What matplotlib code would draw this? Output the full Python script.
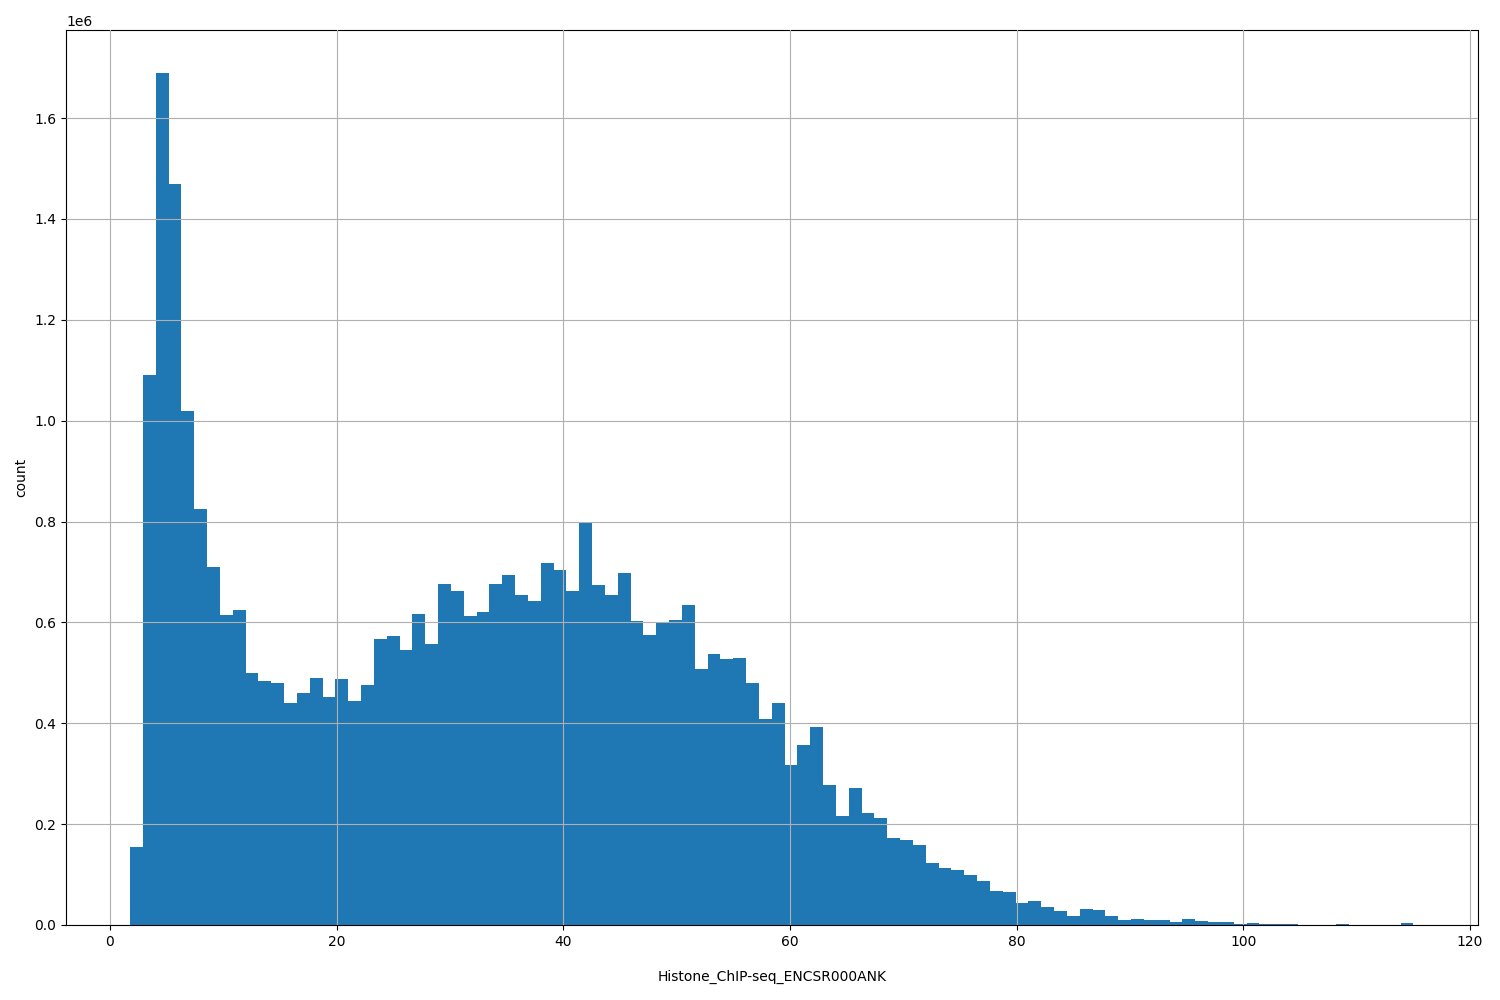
import numpy as np
import matplotlib
matplotlib.use("Agg")
import matplotlib.pyplot as plt

X_MIN = 1.78
X_MAX = 115.0
N_BINS = 100

counts_1e6 = [
    0.155, 1.09, 1.69, 1.47, 1.02, 0.825, 0.71, 0.615, 0.625, 0.5,
    0.483, 0.48, 0.44, 0.46, 0.49, 0.452, 0.488, 0.445, 0.475, 0.567,
    0.573, 0.545, 0.617, 0.558, 0.677, 0.662, 0.613, 0.62, 0.677, 0.693,
    0.655, 0.642, 0.717, 0.703, 0.662, 0.8, 0.675, 0.655, 0.697, 0.603,
    0.574, 0.598, 0.605, 0.635, 0.507, 0.538, 0.528, 0.53, 0.48, 0.408,
    0.44, 0.317, 0.356, 0.392, 0.277, 0.217, 0.272, 0.222, 0.213, 0.173,
    0.168, 0.158, 0.123, 0.113, 0.109, 0.1, 0.088, 0.068, 0.065, 0.043,
    0.048, 0.035, 0.028, 0.018, 0.032, 0.03, 0.018, 0.01, 0.012, 0.01,
    0.01, 0.005, 0.012, 0.008, 0.006, 0.006, 0.001, 0.004, 0.002, 0.001,
    0.002, 0.0005, 0.0005, 0.0005, 0.002, 0.0005, 0.0003, 0.0003, 0.0005, 0.004,
]

edges = np.linspace(X_MIN, X_MAX, N_BINS + 1)
centers = (edges[:-1] + edges[1:]) / 2
counts = np.array(counts_1e6) * 1e6

fig, ax = plt.subplots(figsize=(15, 10), dpi=100)
plt.subplots_adjust(left=0.044, right=0.985, top=0.97, bottom=0.075)
ax.hist(centers, bins=edges, weights=counts, color="#1f77b4")
ax.grid(True)
ax.set_axisbelow(False)
ax.set_xlabel("Histone_ChIP-seq_ENCSR000ANK", labelpad=15)
ax.set_ylabel("count")
fig.savefig("out.png")
